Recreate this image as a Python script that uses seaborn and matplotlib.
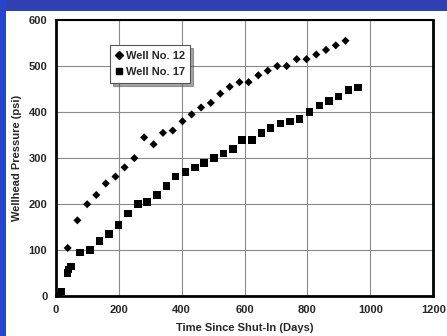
import numpy as np
import pandas as pd
import matplotlib
matplotlib.use("Agg")
import matplotlib.pyplot as plt
from matplotlib.patches import Rectangle
from matplotlib.lines import Line2D
import seaborn as sns

# Data
well12_days = [38, 69, 100, 129, 159, 190, 219, 250, 281, 311, 341, 372, 403, 432, 462,
               493, 523, 553, 584, 613, 644, 674, 704, 734, 766, 797, 828, 859, 890, 921]
well12_psi = [105, 165, 200, 220, 245, 260, 280, 300, 345, 330, 355, 360, 380, 395, 410,
              420, 440, 455, 465, 465, 480, 490, 500, 500, 515, 515, 525, 535, 545, 555]

well17_days = [8, 19, 38, 41, 48, 78, 109, 139, 169, 199, 230, 261, 290, 321, 352, 381,
               412, 443, 472, 503, 533, 564, 593, 624, 654, 683, 714, 744, 775, 807,
               838, 869, 899, 930, 961]
well17_psi = [1, 10, 50, 58, 65, 95, 100, 120, 135, 155, 180, 200, 205, 220, 240, 260,
              270, 280, 290, 300, 310, 320, 340, 340, 355, 365, 375, 380, 385, 400,
              414, 424, 434, 448, 453]

series_names = ["Well No. 12", "Well No. 17"]
x_ticks = [0, 200, 400, 600, 800, 1000, 1200]
y_ticks = [0, 100, 200, 300, 400, 500, 600]

df12 = pd.DataFrame({"days": well12_days, "psi": well12_psi, "Well": series_names[0]})
df17 = pd.DataFrame({"days": well17_days, "psi": well17_psi, "Well": series_names[1]})

sns.set_style("white")
plt.rcParams["font.family"] = ["Liberation Sans", "DejaVu Sans"]

fig = plt.figure(figsize=(4.47, 3.36), dpi=100)
fig.patch.set_facecolor("white")
# slide blue border (top band and left strip)
fig.patches.append(Rectangle((0, 1 - 10.7 / 336), 1, 10.7 / 336, transform=fig.transFigure,
                             facecolor="#2f40b2", edgecolor="none", zorder=0))
fig.patches.append(Rectangle((0, 0), 6.3 / 447, 1, transform=fig.transFigure,
                             facecolor="#2545cc", edgecolor="none", zorder=0))

ax = fig.add_axes([55.7 / 447, 1 - 296.3 / 336, 377.6 / 447, 276.3 / 336])

sns.scatterplot(data=df12, x="days", y="psi", marker="D", color="black",
                s=17, edgecolor="none", ax=ax, legend=False, zorder=3)
sns.scatterplot(data=df17, x="days", y="psi", marker="s", color="black",
                s=30, edgecolor="none", ax=ax, legend=False, zorder=3)

ax.set_xlim(0, 1200)
ax.set_ylim(0, 600)
ax.set_xticks(x_ticks)
ax.set_yticks(y_ticks)
ax.set_xticklabels([str(v) for v in x_ticks], fontsize=8, fontweight="bold")
ax.set_yticklabels([str(v) for v in y_ticks], fontsize=8, fontweight="bold")
ax.tick_params(axis="both", length=3, width=0.6, color="#555555", pad=3)
ax.set_xlabel("Time Since Shut-In (Days)", fontsize=8, fontweight="bold", labelpad=6)
ax.set_ylabel("Wellhead Pressure (psi)", fontsize=8, fontweight="bold", labelpad=5)

ax.grid(True, color="#8a8a8a", linewidth=0.8)
ax.set_axisbelow(True)
for side in ["left", "bottom", "right", "top"]:
    ax.spines[side].set_visible(True)
    ax.spines[side].set_color("black")
    ax.spines[side].set_linewidth(2.0)
ax.spines["top"].set_linewidth(1.5)

# legend
handles = [Line2D([], [], linestyle="none", marker="D", markersize=3.6, color="black"),
           Line2D([], [], linestyle="none", marker="s", markersize=4.8, color="black")]
leg = ax.legend(handles, series_names, loc="upper left",
                bbox_to_anchor=((110 - 55.7) / 377.6, (296.3 - 45) / 276.3),
                prop={"weight": "bold", "size": 8}, frameon=True, fancybox=False,
                shadow=True, handlelength=0.6, handletextpad=0.3, borderpad=0.5,
                labelspacing=0.6, borderaxespad=0)
leg.get_frame().set_edgecolor("#555555")
leg.get_frame().set_linewidth(0.8)

fig.savefig("out.png", dpi=100)
